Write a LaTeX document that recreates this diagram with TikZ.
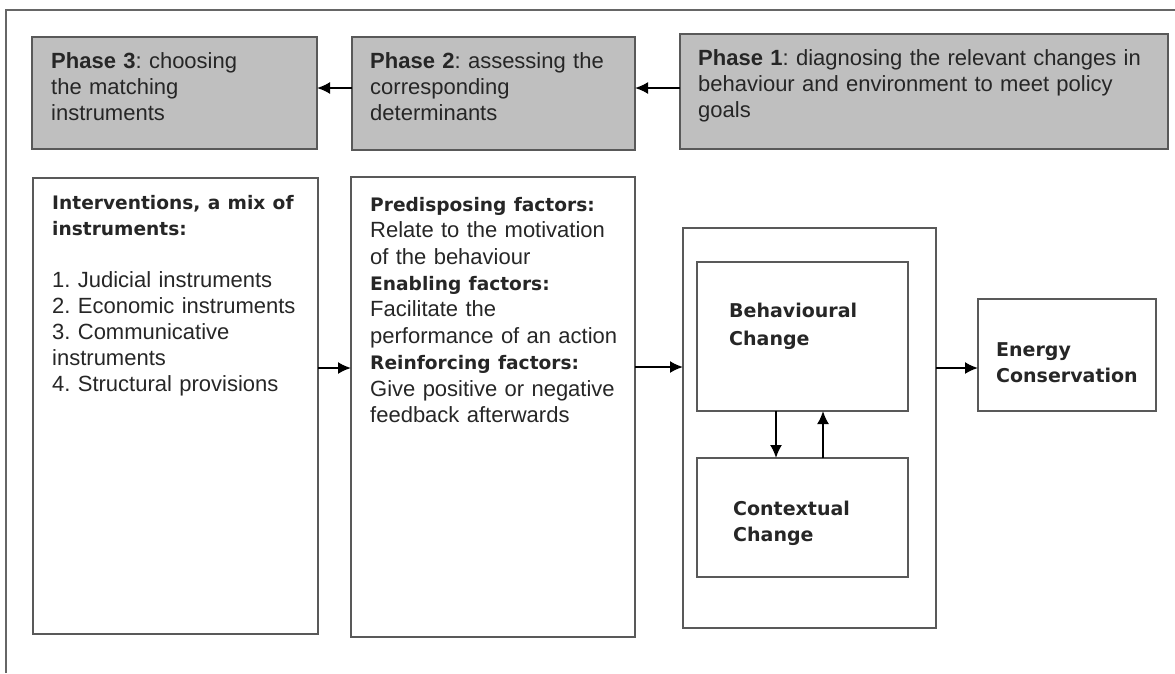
\documentclass[tikz,border=0pt]{standalone}
\usepackage{fontspec}
\setmainfont{Liberation Sans}
\newfontfamily\hdfont{DejaVu Sans}
\usetikzlibrary{arrows.meta}
\frenchspacing

\tikzset{
  box/.style={draw=black!65, line width=1.4pt, inner sep=0pt, outer sep=0pt},
  phasebox/.style={box, fill=black!25},
  txt/.style={anchor=north west, inner sep=0pt, align=left, text width=480pt, text=black!85,
    font=\fontsize{22}{26}\selectfont},
  arr/.style={line width=1.9pt, -{Latex[length=13pt,width=12pt]}},
}
\newcommand{\hd}[1]{{\hdfont\bfseries\fontsize{18.6}{26}\selectfont #1}}

\begin{document}
\begin{tikzpicture}[x=1pt,y=-1pt]
\useasboundingbox (0,0) rectangle (1175,673);
\draw[black!60, line width=1.4pt] (6,673) -- (6,10) -- (1175,10);

% phases
\node[phasebox, minimum width=285pt, minimum height=112pt] (p3) at (174.5,93) {};
\node[phasebox, minimum width=283pt, minimum height=113pt] (p2) at (493.5,93.5) {};
\node[phasebox, minimum width=488pt, minimum height=115pt] (p1) at (924,91.5) {};
\node[txt] (p3t) at (51,52) {\textbf{Phase 3}: choosing\\the matching\\instruments};
\node[txt] (p2t) at (370,52) {\textbf{Phase 2}: assessing the\\corresponding\\determinants};
\node[txt] (p1t) at (698,49) {\textbf{Phase 1}: diagnosing the relevant changes in\\behaviour and environment to meet policy\\goals};

% lower row
\node[box, minimum width=285pt, minimum height=456pt] (inter) at (175.5,406) {};
\node[box, minimum width=284pt, minimum height=460pt] (pred) at (493,407) {};
\node[box, minimum width=253pt, minimum height=400pt] (chg) at (809.5,428) {};
\node[box, minimum width=211pt, minimum height=149pt] (beh) at (802.5,336.5) {};
\node[box, minimum width=211pt, minimum height=119pt] (ctx) at (802.5,517.5) {};
\node[box, minimum width=178pt, minimum height=112pt] (energy) at (1067,355) {};

\node[txt] (intert) at (52,195) {\hd{Interventions, a mix of}\\\hd{instruments:}\\[26pt]
  1. Judicial instruments\\2. Economic instruments\\3. Communicative\\instruments\\4. Structural provisions};
\node[txt, font=\fontsize{22}{26.4}\selectfont] (predt) at (370,197) {\hd{Predisposing factors:}\\Relate to the motivation\\of the behaviour\\
  \hd{Enabling factors:}\\Facilitate the\\performance of an action\\
  \hd{Reinforcing factors:}\\Give positive or negative\\feedback afterwards};
\node[txt, font=\hdfont\bfseries\fontsize{19}{28}\selectfont] (beht) at (729,303) {Behavioural\\Change};
\node[txt, font=\hdfont\bfseries\fontsize{19}{26}\selectfont] (ctxt) at (733,501) {Contextual\\Change};
\node[txt, font=\hdfont\bfseries\fontsize{19}{26}\selectfont] (energyt) at (996,342) {Energy\\Conservation};

% arrows
\draw[arr] (p2.west |- 0,88) -- (p3.east |- 0,88);
\draw[arr] (p1.west |- 0,88) -- (p2.east |- 0,88);
\draw[arr] (inter.east |- 0,368) -- (pred.west |- 0,368);
\draw[arr] (pred.east |- 0,367) -- (chg.west |- 0,367);
\draw[arr] (chg.east |- 0,368) -- (energy.west |- 0,368);
\draw[arr] (776,0 |- beh.south) -- (776,0 |- ctx.north);
\draw[arr] (823,0 |- ctx.north) -- (823,0 |- beh.south);
\end{tikzpicture}
\end{document}
